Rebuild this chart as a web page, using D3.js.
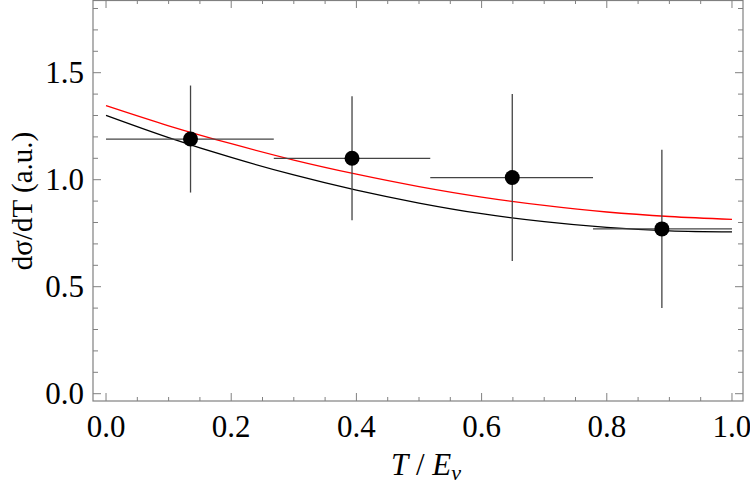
<!DOCTYPE html>
<html><head><meta charset="utf-8">
<script src="https://cdn.jsdelivr.net/npm/d3@7"></script>
<style>body{margin:0;background:#fff}svg{display:block}</style>
</head><body>
<svg id="c" width="750" height="492"></svg>
<script>
// Data points with error bars
const pointX    = [0.135, 0.393, 0.649, 0.888];
const pointY    = [1.19, 1.10, 1.01, 0.77];
const xLow      = [0.0, 0.268, 0.518, 0.778];
const xHigh     = [0.268, 0.518, 0.778, 1.0];
const yLow      = [0.94, 0.81, 0.62, 0.40];
const yHigh     = [1.44, 1.39, 1.40, 1.14];
// Curves
const curveT    = [0, 0.1, 0.2, 0.3, 0.4, 0.5, 0.6, 0.7, 0.8, 0.9, 1.0];
const redCurve  = [1.346, 1.252, 1.168, 1.092, 1.026, 0.968, 0.919, 0.880, 0.849, 0.828, 0.815];
const blackCurve= [1.301, 1.197, 1.104, 1.022, 0.951, 0.891, 0.841, 0.804, 0.777, 0.761, 0.756];
// Ticks
const xTicks = [0, 0.2, 0.4, 0.6, 0.8, 1.0];
const xTickLabels = ["0.0", "0.2", "0.4", "0.6", "0.8", "1.0"];
const yTicks = [0, 0.5, 1.0, 1.5];
const yTickLabels = ["0.0", "0.5", "1.0", "1.5"];

const FONT = "Liberation Serif";
const svg = d3.select("#c").style("font-family", FONT);
const L = 93, R = 743, T = 0.5, B = 401;
const x = d3.scaleLinear().domain([-0.0208, 1.0176]).range([L, R]);
const y = d3.scaleLinear().domain([-0.0341, 1.8397]).range([B, 0]);
const frame = "#808080";

const xMinor = d3.range(0, 1.0001, 0.05).map(v => +v.toFixed(2));
const yMinor = d3.range(0, 1.8001, 0.1).map(v => +v.toFixed(2));
const isMajorX = v => xTicks.some(t => Math.abs(t - v) < 1e-6);
const isMajorY = v => yTicks.some(t => Math.abs(t - v) < 1e-6);

const g = svg.append("g");
xMinor.forEach(v => {
  const len = isMajorX(v) ? 8 : 4;
  g.append("line").attr("x1", x(v)).attr("x2", x(v)).attr("y1", B).attr("y2", B - len).attr("stroke", frame).attr("stroke-width", 1);
  g.append("line").attr("x1", x(v)).attr("x2", x(v)).attr("y1", 0).attr("y2", len).attr("stroke", frame).attr("stroke-width", 1);
});
yMinor.forEach(v => {
  const len = isMajorY(v) ? 8 : 5;
  g.append("line").attr("x1", L).attr("x2", L + len).attr("y1", y(v)).attr("y2", y(v)).attr("stroke", frame).attr("stroke-width", 1);
  g.append("line").attr("x1", R).attr("x2", R - len).attr("y1", y(v)).attr("y2", y(v)).attr("stroke", frame).attr("stroke-width", 1);
});
g.append("rect").attr("x", L).attr("y", T).attr("width", R - L).attr("height", B - T)
  .attr("fill", "none").attr("stroke", frame).attr("stroke-width", 1.2);

xTicks.forEach((v, i) => {
  svg.append("text").attr("x", x(v)).attr("y", 437).attr("text-anchor", "middle")
    .style("font-family", FONT).style("font-size", "31px").attr("fill", "#000").text(xTickLabels[i]);
});
yTicks.forEach((v, i) => {
  svg.append("text").attr("x", 84).attr("y", y(v) + 10).attr("text-anchor", "end")
    .style("font-family", FONT).style("font-size", "31px").attr("fill", "#000").text(yTickLabels[i]);
});

const xl = svg.append("text").attr("x", 426).attr("y", 475).attr("text-anchor", "middle")
  .style("font-family", FONT).style("font-size", "31px");
xl.append("tspan").style("font-style", "italic").text("T");
xl.append("tspan").text(" / ");
xl.append("tspan").style("font-style", "italic").text("E");
xl.append("tspan").style("font-style", "italic").style("font-size", "22px").attr("dy", 5).text("ν");
svg.append("text").attr("transform", "translate(32,201) rotate(-90)").attr("text-anchor", "middle")
  .style("font-family", FONT).style("font-size", "29px").text("dσ/dT (a.u.)");

svg.append("clipPath").attr("id", "clp").append("rect").attr("x", L).attr("y", 0).attr("width", R - L).attr("height", B);
const line = d3.line().x(d => x(d[0])).y(d => y(d[1])).curve(d3.curveMonotoneX);
svg.append("path").attr("d", line(curveT.map((t, i) => [t, blackCurve[i]])))
  .attr("fill", "none").attr("stroke", "#000").attr("stroke-width", 1.3).attr("clip-path", "url(#clp)");
svg.append("path").attr("d", line(curveT.map((t, i) => [t, redCurve[i]])))
  .attr("fill", "none").attr("stroke", "#ff0000").attr("stroke-width", 1.3).attr("clip-path", "url(#clp)");

const eb = "#444";
pointX.forEach((px, i) => {
  svg.append("line").attr("x1", x(xLow[i])).attr("x2", x(xHigh[i])).attr("y1", y(pointY[i])).attr("y2", y(pointY[i]))
    .attr("stroke", eb).attr("stroke-width", 1.3);
  svg.append("line").attr("x1", x(px)).attr("x2", x(px)).attr("y1", y(yLow[i])).attr("y2", y(yHigh[i]))
    .attr("stroke", eb).attr("stroke-width", 1.3);
  svg.append("circle").attr("cx", x(px)).attr("cy", y(pointY[i])).attr("r", 7.5).attr("fill", "#000");
});
</script>
</body></html>
